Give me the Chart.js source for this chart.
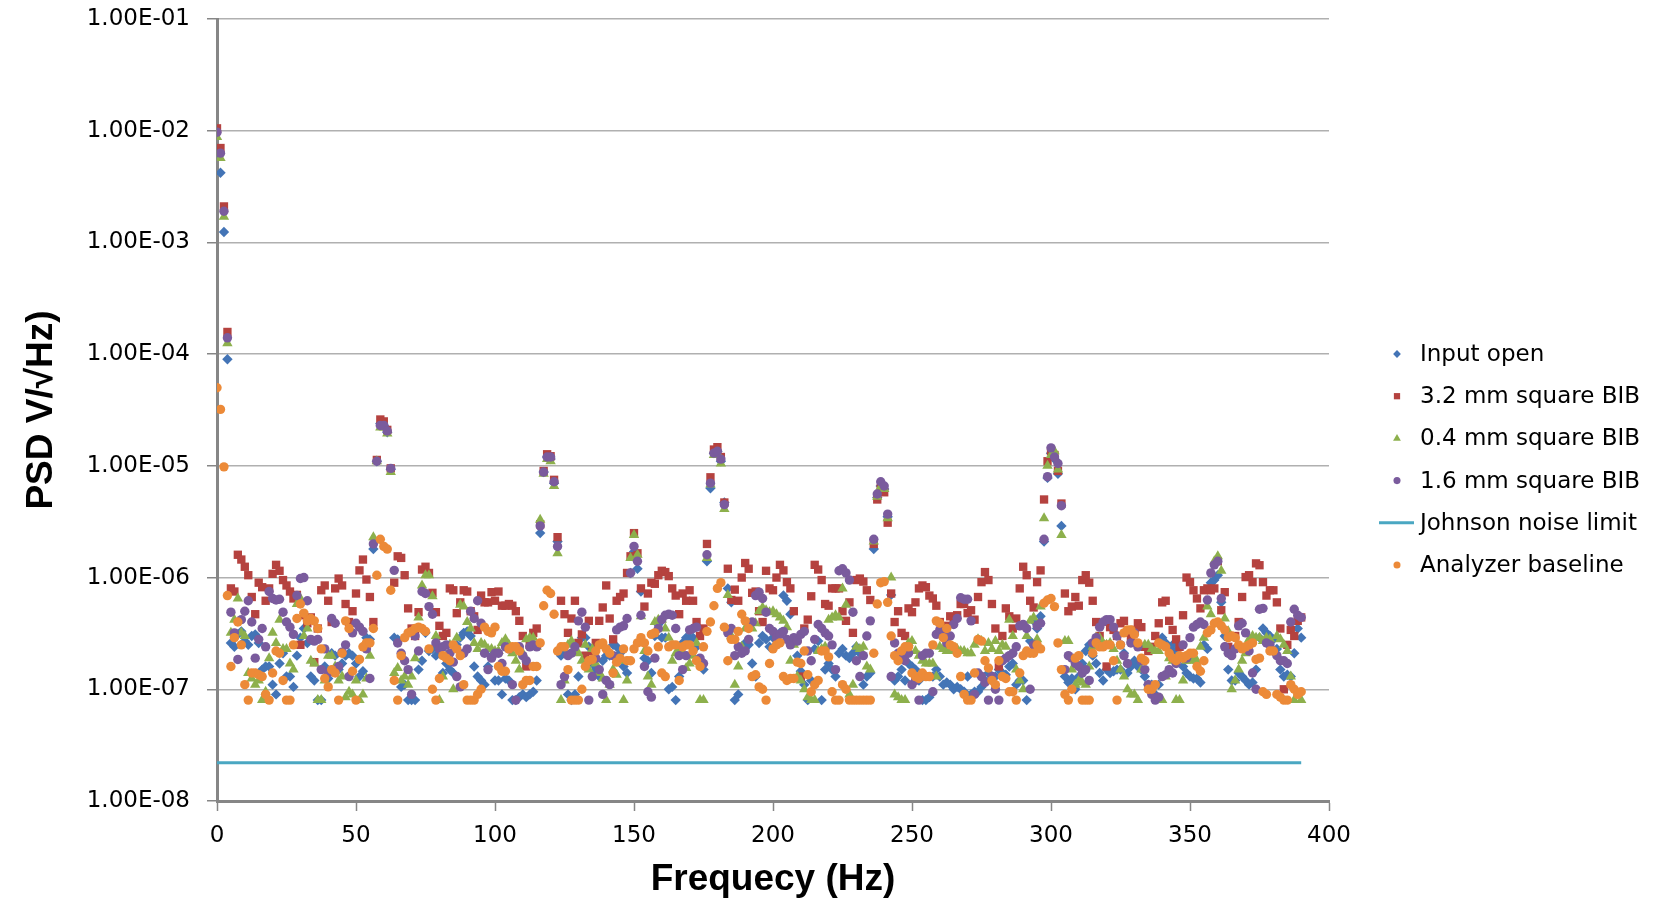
<!DOCTYPE html>
<html>
<head>
<meta charset="utf-8">
<title>PSD</title>
<script src="https://cdn.jsdelivr.net/npm/chart.js@4.4.1/dist/chart.umd.min.js"></script>
<style>
  html, body { margin: 0; padding: 0; background: #ffffff; }
  #wrap { width: 1663px; height: 907px; position: relative; }
</style>
</head>
<body>
<div id="wrap"><canvas id="psd-chart"></canvas></div>
<script>
// frequency bins (Hz)
const freqsHz = [
  0, 1.25, 2.5, 3.75, 5, 6.25, 7.5, 8.75,
  10, 11.25, 12.5, 13.75, 15, 16.25, 17.5, 18.75,
  20, 21.25, 22.5, 23.75, 25, 26.25, 27.5, 28.75,
  30, 31.25, 32.5, 33.75, 35, 36.25, 37.5, 38.75,
  40, 41.25, 42.5, 43.75, 45, 46.25, 47.5, 48.75,
  50, 51.25, 52.5, 53.75, 55, 56.25, 57.5, 58.75,
  60, 61.25, 62.5, 63.75, 65, 66.25, 67.5, 68.75,
  70, 71.25, 72.5, 73.75, 75, 76.25, 77.5, 78.75,
  80, 81.25, 82.5, 83.75, 85, 86.25, 87.5, 88.75,
  90, 91.25, 92.5, 93.75, 95, 96.25, 97.5, 98.75,
  100, 101.25, 102.5, 103.75, 105, 106.25, 107.5, 108.75,
  110, 111.25, 112.5, 113.75, 115, 116.25, 117.5, 118.75,
  120, 121.25, 122.5, 123.75, 125, 126.25, 127.5, 128.75,
  130, 131.25, 132.5, 133.75, 135, 136.25, 137.5, 138.75,
  140, 141.25, 142.5, 143.75, 145, 146.25, 147.5, 148.75,
  150, 151.25, 152.5, 153.75, 155, 156.25, 157.5, 158.75,
  160, 161.25, 162.5, 163.75, 165, 166.25, 167.5, 168.75,
  170, 171.25, 172.5, 173.75, 175, 176.25, 177.5, 178.75,
  180, 181.25, 182.5, 183.75, 185, 186.25, 187.5, 188.75,
  190, 191.25, 192.5, 193.75, 195, 196.25, 197.5, 198.75,
  200, 201.25, 202.5, 203.75, 205, 206.25, 207.5, 208.75,
  210, 211.25, 212.5, 213.75, 215, 216.25, 217.5, 218.75,
  220, 221.25, 222.5, 223.75, 225, 226.25, 227.5, 228.75,
  230, 231.25, 232.5, 233.75, 235, 236.25, 237.5, 238.75,
  240, 241.25, 242.5, 243.75, 245, 246.25, 247.5, 248.75,
  250, 251.25, 252.5, 253.75, 255, 256.25, 257.5, 258.75,
  260, 261.25, 262.5, 263.75, 265, 266.25, 267.5, 268.75,
  270, 271.25, 272.5, 273.75, 275, 276.25, 277.5, 278.75,
  280, 281.25, 282.5, 283.75, 285, 286.25, 287.5, 288.75,
  290, 291.25, 292.5, 293.75, 295, 296.25, 297.5, 298.75,
  300, 301.25, 302.5, 303.75, 305, 306.25, 307.5, 308.75,
  310, 311.25, 312.5, 313.75, 315, 316.25, 317.5, 318.75,
  320, 321.25, 322.5, 323.75, 325, 326.25, 327.5, 328.75,
  330, 331.25, 332.5, 333.75, 335, 336.25, 337.5, 338.75,
  340, 341.25, 342.5, 343.75, 345, 346.25, 347.5, 348.75,
  350, 351.25, 352.5, 353.75, 355, 356.25, 357.5, 358.75,
  360, 361.25, 362.5, 363.75, 365, 366.25, 367.5, 368.75,
  370, 371.25, 372.5, 373.75, 375, 376.25, 377.5, 378.75,
  380, 381.25, 382.5, 383.75, 385, 386.25, 387.5, 388.75,
  390
];

// PSD, V/rtHz
const inputOpen = [
  6.3e-3, 4.2e-3, 1.24e-3, 9e-5, 2.6e-7, 2.4e-7, 3.1e-7, 3.3e-7,
  2.7e-7, 2.5e-7, 3e-7, 3.1e-7, 2.6e-7, 1.5e-7, 1.6e-7, 1.6e-7,
  1.1e-7, 9e-8, 1.7e-7, 2.1e-7, 1.3e-7, 1.3e-7, 1.05e-7, 2e-7,
  2.9e-7, 3.5e-7, 2.6e-7, 1.3e-7, 1.2e-7, 8e-8, 8e-8, 1.6e-7,
  1.25e-7, 2.1e-7, 2e-7, 1.5e-7, 1.7e-7, 2e-7, 2.1e-7, 2e-7,
  1.7e-7, 1.3e-7, 1.45e-7, 2.9e-7, 2.8e-7, 1.8e-6, 1.1e-5, 2.4e-5,
  2.3e-5, 2e-5, 9.3e-6, 2.9e-7, 2.8e-7, 1.05e-7, 1.1e-7, 8e-8,
  8e-8, 8e-8, 1.5e-7, 1.8e-7, 3.2e-7, 2.2e-7, 2.3e-7, 2e-7,
  2.1e-7, 1.4e-7, 1.7e-7, 1.5e-7, 1.4e-7, 2.5e-7, 2.9e-7, 3.2e-7,
  3.3e-7, 3e-7, 1.6e-7, 1.3e-7, 1.2e-7, 1.1e-7, 1.6e-7, 2e-7,
  1.2e-7, 1.2e-7, 9e-8, 1.25e-7, 1.2e-7, 8e-8, 8e-8, 8.5e-8,
  9e-8, 8.5e-8, 9e-8, 9.5e-8, 1.2e-7, 2.5e-6, 8.8e-6, 1.2e-5,
  1.15e-5, 7e-6, 2.1e-6, 2e-7, 2.2e-7, 9e-8, 8e-8, 9e-8,
  1.3e-7, 2.9e-7, 2.9e-7, 2.4e-7, 1.7e-7, 1.5e-7, 1.3e-7, 1.8e-7,
  2e-7, 2e-7, 2.5e-7, 2.4e-7, 2.1e-7, 1.6e-7, 1.4e-7, 1.1e-6,
  1.7e-6, 1.2e-6, 7.5e-7, 1.9e-7, 1.8e-7, 1.4e-7, 3e-7, 3.8e-7,
  2.9e-7, 2.9e-7, 1e-7, 1.05e-7, 8e-8, 1.3e-7, 2.6e-7, 2.9e-7,
  2.9e-7, 2.9e-7, 2.4e-7, 1.8e-7, 1.5e-7, 1.4e-6, 6.3e-6, 1.3e-5,
  1.35e-5, 1.1e-5, 4.7e-6, 8e-7, 6e-7, 8e-8, 9e-8, 2.3e-7,
  2.6e-7, 2.5e-7, 1.7e-7, 1.3e-7, 2.6e-7, 3e-7, 2.8e-7, 2.4e-7,
  2.9e-7, 3.1e-7, 3.2e-7, 6.9e-7, 6.2e-7, 4.7e-7, 2.6e-7, 2e-7,
  1.45e-7, 1.1e-7, 8e-8, 1.2e-7, 2.3e-7, 2.7e-7, 8e-8, 1.5e-7,
  1.7e-7, 1.5e-7, 1.3e-7, 2.1e-7, 2.3e-7, 2e-7, 1.9e-7, 2.1e-7,
  2.4e-7, 2.1e-7, 1.1e-7, 1.3e-7, 1.4e-7, 1.8e-6, 5.2e-6, 6.6e-6,
  6.2e-6, 3.5e-6, 7e-7, 1.2e-7, 1.3e-7, 1.5e-7, 1.2e-7, 1.7e-7,
  1.6e-7, 1.5e-7, 1.2e-7, 8e-8, 8e-8, 8.5e-8, 1.3e-7, 1.5e-7,
  1.3e-7, 1.1e-7, 1.15e-7, 1.1e-7, 1e-7, 1.05e-7, 1e-7, 9.5e-8,
  1.3e-7, 9e-8, 9.5e-8, 9.5e-8, 1.05e-7, 1.2e-7, 1.4e-7, 1.3e-7,
  1.3e-7, 1.5e-7, 1.4e-7, 1.35e-7, 1.6e-7, 1.7e-7, 1.1e-7, 1.2e-7,
  1.2e-7, 8e-8, 2.7e-7, 4.1e-7, 3.5e-7, 4.5e-7, 2.1e-6, 7.8e-6,
  1.3e-5, 1.15e-5, 8.5e-6, 2.9e-6, 1.3e-7, 1.15e-7, 1.25e-7, 1e-7,
  1.3e-7, 1.7e-7, 2.2e-7, 2.5e-7, 2e-7, 1.7e-7, 1.4e-7, 1.2e-7,
  1.5e-7, 1.4e-7, 1.45e-7, 1.5e-7, 1.5e-7, 2.1e-7, 1.4e-7, 1.6e-7,
  1.8e-7, 1.6e-7, 1.5e-7, 1.3e-7, 1.1e-7, 1.1e-7, 9e-8, 1.1e-7,
  2.9e-7, 2.6e-7, 2.3e-7, 2.5e-7, 2.2e-7, 1.9e-7, 1.6e-7, 1.4e-7,
  1.3e-7, 1.25e-7, 1.25e-7, 1.15e-7, 2.5e-7, 2.3e-7, 9e-7, 9.5e-7,
  1.05e-6, 6e-7, 3e-7, 1.5e-7, 1.2e-7, 1.2e-7, 1.4e-7, 1.3e-7,
  1.2e-7, 1.1e-7, 1.15e-7, 1.5e-7, 2.9e-7, 3.5e-7, 3.2e-7, 3e-7,
  2.8e-7, 2.3e-7, 1.5e-7, 1.3e-7, 1.35e-7, 1.3e-7, 2.1e-7, 3.5e-7,
  2.9e-7
];

const bib32 = [
  1.05e-2, 7e-3, 2.1e-3, 1.58e-4, 8e-7, 7.5e-7, 1.6e-6, 1.45e-6,
  1.25e-6, 1.05e-6, 6.7e-7, 4.7e-7, 9e-7, 8.2e-7, 6.2e-7, 8e-7,
  1.08e-6, 1.3e-6, 1.15e-6, 9.5e-7, 8.5e-7, 7.5e-7, 6.5e-7, 7e-7,
  2.5e-7, 4.6e-7, 3.9e-7, 4.4e-7, 1.75e-7, 3.5e-7, 7.7e-7, 8.5e-7,
  6.2e-7, 4e-7, 8e-7, 9.8e-7, 8.5e-7, 5.8e-7, 4e-7, 5e-7,
  7.2e-7, 1.16e-6, 1.45e-6, 9.6e-7, 6.7e-7, 4e-7, 1.13e-5, 2.6e-5,
  2.5e-5, 2.1e-5, 9.5e-6, 9e-7, 1.55e-6, 1.5e-6, 1.05e-6, 5.3e-7,
  3.5e-7, 3e-7, 4.9e-7, 1.18e-6, 1.25e-6, 1.1e-6, 7.3e-7, 4.9e-7,
  3.7e-7, 3e-7, 3.2e-7, 8e-7, 7.7e-7, 4.8e-7, 6e-7, 7.7e-7,
  7.5e-7, 5e-7, 4.5e-7, 3.4e-7, 6.9e-7, 6e-7, 6e-7, 7.4e-7,
  6.2e-7, 7.5e-7, 5.6e-7, 5.6e-7, 5.8e-7, 5.6e-7, 5e-7, 4.1e-7,
  3e-7, 1.6e-7, 2.5e-7, 3.2e-7, 3.5e-7, 3e-6, 9e-6, 1.27e-5,
  1.22e-5, 7.5e-6, 2.3e-6, 6.2e-7, 4.7e-7, 3.2e-7, 4.3e-7, 6.2e-7,
  2.6e-7, 3.1e-7, 2e-7, 4.1e-7, 2.2e-7, 2.6e-7, 4.1e-7, 5.4e-7,
  8.5e-7, 4.3e-7, 2.8e-7, 6.2e-7, 6.7e-7, 7.2e-7, 1.1e-6, 1.55e-6,
  2.5e-6, 1.65e-6, 8e-7, 5.5e-7, 7.2e-7, 9e-7, 8.8e-7, 1.05e-6,
  1.15e-6, 1.12e-6, 1.03e-6, 8e-7, 6.9e-7, 4.7e-7, 7.2e-7, 6.2e-7,
  7.7e-7, 6.2e-7, 4e-7, 3e-7, 3.5e-7, 2e-6, 7.9e-6, 1.4e-5,
  1.47e-5, 1.2e-5, 4.7e-6, 1.2e-6, 6.3e-7, 7.8e-7, 6.2e-7, 1e-6,
  1.35e-6, 1.2e-6, 7.3e-7, 7.5e-7, 5e-7, 4e-7, 1.15e-6, 8e-7,
  7.7e-7, 1e-6, 1.3e-6, 1.16e-6, 9.1e-7, 8e-7, 5e-7, 2.8e-7,
  1.3e-7, 3.5e-7, 4.2e-7, 6.8e-7, 1.3e-6, 1.18e-6, 9.5e-7, 5.8e-7,
  5.6e-7, 8e-7, 8e-7, 8e-7, 5e-7, 4.1e-7, 6e-7, 3.2e-7,
  9.5e-7, 9.8e-7, 9.2e-7, 7.7e-7, 6.3e-7, 2e-6, 5e-6, 6.3e-6,
  5.8e-6, 3.1e-6, 7.2e-7, 4e-7, 5e-7, 3.2e-7, 3e-7, 5.3e-7,
  4.9e-7, 6e-7, 8e-7, 8.5e-7, 8.2e-7, 6.9e-7, 6.5e-7, 5.6e-7,
  4e-7, 3.5e-7, 3.7e-7, 4.5e-7, 4.1e-7, 4.6e-7, 5.8e-7, 5.8e-7,
  4.8e-7, 5.1e-7, 4.2e-7, 6.7e-7, 9.1e-7, 1.12e-6, 9.5e-7, 5.8e-7,
  3.5e-7, 1.6e-7, 3e-7, 5.3e-7, 4.5e-7, 3.5e-7, 4.3e-7, 8e-7,
  1.25e-6, 1.05e-6, 6.2e-7, 5.4e-7, 9.1e-7, 1.16e-6, 5e-6, 1.1e-5,
  1.35e-5, 1.25e-5, 9e-6, 4.6e-6, 7.2e-7, 5e-7, 5.5e-7, 6.7e-7,
  5.6e-7, 9.5e-7, 1.05e-6, 9e-7, 6.2e-7, 4e-7, 3e-7, 2.5e-7,
  1.6e-7, 3.6e-7, 3.4e-7, 3e-7, 3.9e-7, 4.1e-7, 3.2e-7, 2.8e-7,
  3.4e-7, 3.9e-7, 3.6e-7, 2.4e-7, 2.2e-7, 2.4e-7, 3e-7, 3.9e-7,
  6e-7, 6.2e-7, 4.1e-7, 3.4e-7, 2.8e-7, 2.4e-7, 4.6e-7, 1e-6,
  9.1e-7, 7.7e-7, 6.5e-7, 5.3e-7, 7.7e-7, 8e-7, 7.7e-7, 8e-7,
  1.4e-6, 5.1e-7, 7.4e-7, 2.4e-7, 2.2e-7, 3e-7, 4e-7, 6.7e-7,
  1.01e-6, 1.05e-6, 9.1e-7, 1.34e-6, 1.29e-6, 9.1e-7, 6.9e-7, 7.7e-7,
  7.7e-7, 6e-7, 3.5e-7, 1e-7, 2.5e-7, 3.4e-7, 3e-7, 4.1e-7,
  4.4e-7
];

const bib04 = [
  8.8e-3, 5.7e-3, 1.7e-3, 1.25e-4, 3.2e-7, 4.2e-7, 6.5e-7, 3.2e-7,
  3e-7, 1.4e-7, 1.25e-7, 1.1e-7, 1.2e-7, 8e-8, 9.5e-8, 1.9e-7,
  3.2e-7, 2.6e-7, 4.2e-7, 2.3e-7, 2.3e-7, 1.7e-7, 1.5e-7, 5.8e-7,
  6.5e-7, 3e-7, 3.5e-7, 1.8e-7, 1.7e-7, 8e-8, 8e-8, 1.2e-7,
  2e-7, 2e-7, 1.6e-7, 1.2e-7, 1.3e-7, 8.5e-8, 9.5e-8, 9e-8,
  1.2e-7, 8e-8, 9e-8, 1.25e-7, 2e-7, 2.3e-6, 1.1e-5, 2.2e-5,
  2.2e-5, 1.95e-5, 8.8e-6, 1.4e-7, 1.55e-7, 1.2e-7, 1.3e-7, 1.1e-7,
  1.3e-7, 1.9e-7, 4.4e-7, 8.5e-7, 1.05e-6, 1.05e-6, 6.8e-7, 3e-7,
  8e-8, 1.3e-7, 2e-7, 2.5e-7, 1e-7, 2.9e-7, 5.7e-7, 5.5e-7,
  4e-7, 3.5e-7, 2.6e-7, 2.3e-7, 2.6e-7, 2.5e-7, 2.3e-7, 2.3e-7,
  2.2e-7, 2.2e-7, 2.6e-7, 2.8e-7, 2.5e-7, 2.1e-7, 1.8e-7, 1.5e-7,
  2.1e-7, 2.8e-7, 2.9e-7, 2.9e-7, 2.4e-7, 3.3e-6, 8.5e-6, 1.15e-5,
  1.1e-5, 6.6e-6, 1.65e-6, 8e-8, 1.2e-7, 2.5e-7, 2.7e-7, 2.2e-7,
  2.1e-7, 1.8e-7, 2.5e-7, 1.5e-7, 2.3e-7, 1.7e-7, 1.4e-7, 1.25e-7,
  8e-8, 1.1e-7, 1.5e-7, 1.35e-7, 1.8e-7, 8e-8, 1.2e-7, 1.5e-6,
  2.4e-6, 1.6e-6, 4.5e-7, 2.2e-7, 1.3e-7, 1.1e-7, 4e-7, 4.2e-7,
  4.2e-7, 3.5e-7, 2.9e-7, 1.8e-7, 2.1e-7, 2.3e-7, 2.1e-7, 1.55e-7,
  1.7e-7, 2e-7, 2.6e-7, 8e-8, 8e-8, 1.5e-6, 6.8e-6, 1.25e-5,
  1.3e-5, 1.05e-5, 4.1e-6, 7e-7, 3e-7, 1.1e-7, 1.6e-7, 2.4e-7,
  3.5e-7, 3.9e-7, 3.5e-7, 3.9e-7, 5e-7, 5.4e-7, 5.1e-7, 4.9e-7,
  5e-7, 4.7e-7, 4.4e-7, 4.1e-7, 3.6e-7, 1.8e-7, 2.5e-7, 1.3e-7,
  1.2e-7, 1e-7, 8.5e-8, 8e-8, 8e-8, 2.2e-7, 2.3e-7, 2.4e-7,
  4.2e-7, 4.4e-7, 4.6e-7, 4.4e-7, 8e-7, 5.7e-7, 9e-8, 1.1e-7,
  2.4e-7, 2.3e-7, 2.4e-7, 1.6e-7, 1.5e-7, 2.1e-6, 5.3e-6, 6.5e-6,
  6.2e-6, 3.4e-6, 1e-6, 9e-8, 8.5e-8, 8e-8, 8e-8, 2.6e-7,
  2.7e-7, 2.2e-7, 2e-7, 1.8e-7, 1.7e-7, 1.7e-7, 1.7e-7, 1.3e-7,
  2.4e-7, 2.3e-7, 2.2e-7, 2.2e-7, 2.3e-7, 2.3e-7, 2.2e-7, 2.2e-7,
  2.1e-7, 2.1e-7, 2.5e-7, 2.8e-7, 2.7e-7, 2.2e-7, 2.6e-7, 2.3e-7,
  2.7e-7, 2.2e-7, 2.5e-7, 2.4e-7, 4.2e-7, 3e-7, 1.5e-7, 1.2e-7,
  1e-7, 3e-7, 4.1e-7, 4.4e-7, 2.8e-7, 5.5e-7, 3.4e-6, 1e-5,
  1.25e-5, 1.35e-5, 9.3e-6, 2.4e-6, 2.7e-7, 2.7e-7, 1.5e-7, 1.1e-7,
  1.2e-7, 1.15e-7, 1.1e-7, 1.6e-7, 2.4e-7, 2.9e-7, 2.9e-7, 2.6e-7,
  2.5e-7, 2.6e-7, 2.3e-7, 1.8e-7, 1.5e-7, 1.3e-7, 1e-7, 9e-8,
  9e-8, 8e-8, 1.5e-7, 2.5e-7, 2.5e-7, 2.3e-7, 2.2e-7, 2.2e-7,
  8e-8, 1.3e-7, 1.9e-7, 1.8e-7, 8e-8, 8e-8, 1.2e-7, 1.8e-7,
  1.8e-7, 1.9e-7, 1.8e-7, 2.4e-7, 2.9e-7, 5.5e-7, 4.7e-7, 1.4e-6,
  1.55e-6, 1.15e-6, 4.3e-7, 3.3e-7, 1e-7, 1.2e-7, 1.5e-7, 1.8e-7,
  2.1e-7, 2.8e-7, 3e-7, 2.9e-7, 2.9e-7, 2.7e-7, 2.9e-7, 2.8e-7,
  2.2e-7, 3e-7, 2.8e-7, 2.5e-7, 2.2e-7, 1.3e-7, 8e-8, 9e-8,
  8e-8
];

const bib16 = [
  9.7e-3, 6.3e-3, 1.9e-3, 1.4e-4, 4.9e-7, 3.2e-7, 1.85e-7, 4.2e-7,
  5e-7, 6.2e-7, 4e-7, 1.9e-7, 2.8e-7, 3.5e-7, 2.4e-7, 7.5e-7,
  6.5e-7, 6.3e-7, 6.4e-7, 4.9e-7, 4e-7, 3.6e-7, 3.1e-7, 6.9e-7,
  9.8e-7, 1e-6, 6.2e-7, 2.8e-7, 2.7e-7, 2.8e-7, 1.5e-7, 2.3e-7,
  1.4e-7, 4.3e-7, 3.9e-7, 1.6e-7, 2.15e-7, 2.5e-7, 1.3e-7, 3.2e-7,
  3.9e-7, 3.6e-7, 3.3e-7, 2.3e-7, 1.25e-7, 2e-6, 1.1e-5, 2.3e-5,
  2.3e-5, 2.05e-5, 9.5e-6, 1.16e-6, 2.6e-7, 2.1e-7, 1.8e-7, 1.5e-7,
  9e-8, 3e-7, 2.2e-7, 7.5e-7, 7.2e-7, 5.5e-7, 4.7e-7, 2.6e-7,
  2.3e-7, 2.4e-7, 2.5e-7, 2.1e-7, 1.75e-7, 1.3e-7, 1.05e-7, 2.1e-7,
  2.3e-7, 5e-7, 4.3e-7, 6.2e-7, 3.9e-7, 2.1e-7, 1.5e-7, 1.9e-7,
  2.1e-7, 2.1e-7, 1.7e-7, 2.4e-7, 2.3e-7, 1.1e-7, 8e-8, 2.4e-7,
  2e-7, 1.8e-7, 2.4e-7, 2.5e-7, 2.4e-7, 2.9e-6, 8.8e-6, 1.2e-5,
  1.2e-5, 7.2e-6, 1.9e-6, 1.1e-7, 1.3e-7, 2e-7, 2.1e-7, 2.4e-7,
  4.1e-7, 4.9e-7, 3.6e-7, 8e-8, 1.3e-7, 1.9e-7, 1.5e-7, 9e-8,
  1.2e-7, 1.1e-7, 2e-7, 3.4e-7, 3.6e-7, 3.7e-7, 4.3e-7, 1.1e-6,
  1.9e-6, 1.4e-6, 4.6e-7, 1.6e-7, 9.5e-8, 8.5e-8, 1.9e-7, 3.5e-7,
  4.2e-7, 4.6e-7, 4.7e-7, 4.6e-7, 3.5e-7, 2e-7, 1.5e-7, 2e-7,
  3.4e-7, 3.5e-7, 3.6e-7, 1.9e-7, 1.7e-7, 1.6e-6, 7e-6, 1.3e-5,
  1.35e-5, 1.15e-5, 4.5e-6, 3.2e-7, 3.5e-7, 2e-7, 2.4e-7, 2.1e-7,
  2.2e-7, 2.8e-7, 4e-7, 6.9e-7, 7.4e-7, 6.5e-7, 4.9e-7, 3.5e-7,
  3.3e-7, 2.9e-7, 3.1e-7, 3.3e-7, 2.8e-7, 2.5e-7, 2.9e-7, 2.7e-7,
  3.1e-7, 3.3e-7, 2.2e-7, 1.8e-7, 2.8e-7, 3.8e-7, 3.5e-7, 3.2e-7,
  3e-7, 2.5e-7, 1.5e-7, 1.15e-6, 1.2e-6, 1.1e-6, 9.5e-7, 4.9e-7,
  1.8e-7, 1.3e-7, 2e-7, 3e-7, 4.1e-7, 2.2e-6, 5.6e-6, 7.2e-6,
  6.6e-6, 3.7e-6, 1.3e-7, 2.6e-7, 2.1e-7, 2e-7, 1.8e-7, 2.1e-7,
  1.1e-7, 1.2e-7, 8e-8, 2e-7, 2.1e-7, 2.1e-7, 9.5e-8, 3.1e-7,
  3.4e-7, 3.3e-7, 2.6e-7, 3e-7, 3.8e-7, 4.3e-7, 6.6e-7, 6.4e-7,
  6.4e-7, 4.1e-7, 9e-8, 1.4e-7, 1.3e-7, 1.15e-7, 8e-8, 1.3e-7,
  1e-7, 8e-8, 1.8e-7, 1.9e-7, 2e-7, 2.1e-7, 2.4e-7, 3.7e-7,
  3.8e-7, 3.5e-7, 1e-7, 2.5e-7, 3.7e-7, 3.9e-7, 2.2e-6, 8e-6,
  1.45e-5, 1.2e-5, 1.05e-5, 4.4e-6, 1.5e-7, 2e-7, 1.9e-7, 1.7e-7,
  1.6e-7, 1.4e-7, 1.5e-7, 1.2e-7, 2.6e-7, 2.9e-7, 3.6e-7, 4e-7,
  4.2e-7, 4.2e-7, 3.6e-7, 3e-7, 2.5e-7, 2e-7, 1.7e-7, 2.6e-7,
  3.2e-7, 2.4e-7, 1.8e-7, 1.5e-7, 1.1e-7, 9e-8, 8e-8, 8.5e-8,
  1.3e-7, 1.35e-7, 1.5e-7, 1.4e-7, 1.7e-7, 1.9e-7, 2.5e-7, 1.9e-7,
  2.9e-7, 3.6e-7, 3.8e-7, 4e-7, 3.8e-7, 6.3e-7, 1.1e-6, 1.3e-6,
  1.4e-6, 6.5e-7, 2.4e-7, 2.1e-7, 2e-7, 2.3e-7, 3.7e-7, 3.9e-7,
  3.2e-7, 2.2e-7, 1.4e-7, 1e-7, 5.2e-7, 5.3e-7, 2.6e-7, 2.5e-7,
  2.2e-7, 2e-7, 1.8e-7, 1.8e-7, 1.7e-7, 4e-7, 5.2e-7, 4.6e-7,
  4.4e-7
];

const analyzerBaseline = [
  5e-5, 3.2e-5, 9.8e-6, 6.9e-7, 1.6e-7, 2.9e-7, 4e-7, 2.5e-7,
  1.1e-7, 8e-8, 1.4e-7, 1.4e-7, 1.35e-7, 1.3e-7, 9e-8, 8e-8,
  1.4e-7, 2.2e-7, 2.1e-7, 1.2e-7, 8e-8, 8e-8, 2.5e-7, 4.3e-7,
  5.8e-7, 4.8e-7, 4.1e-7, 4.3e-7, 4.1e-7, 3.5e-7, 2.3e-7, 1.25e-7,
  1.05e-7, 1.5e-7, 1.4e-7, 8e-8, 2.1e-7, 4.1e-7, 3.5e-7, 1.45e-7,
  8e-8, 1.85e-7, 2.4e-7, 2.6e-7, 2.6e-7, 3.5e-7, 1.05e-6, 2.2e-6,
  1.9e-6, 1.8e-6, 7.7e-7, 1.2e-7, 8e-8, 2e-7, 2.9e-7, 3.2e-7,
  3.3e-7, 3.5e-7, 3.6e-7, 3.5e-7, 3.3e-7, 2.3e-7, 1e-7, 8e-8,
  1.25e-7, 2e-7, 1.9e-7, 1.8e-7, 2.5e-7, 2.3e-7, 2e-7, 1.1e-7,
  8e-8, 8e-8, 8e-8, 9e-8, 1e-7, 3.6e-7, 3.3e-7, 3.2e-7,
  3.6e-7, 1.6e-7, 1.45e-7, 1.45e-7, 2.3e-7, 2.4e-7, 2.4e-7, 2.2e-7,
  1.1e-7, 1.2e-7, 1.2e-7, 1.6e-7, 1.6e-7, 2.6e-7, 5.6e-7, 7.7e-7,
  7.2e-7, 4.7e-7, 2.2e-7, 2.4e-7, 2.4e-7, 1.5e-7, 8e-8, 8e-8,
  8e-8, 1e-7, 1.6e-7, 1.8e-7, 1.85e-7, 2.2e-7, 2.5e-7, 2.6e-7,
  2.3e-7, 2.1e-7, 1.4e-7, 1.75e-7, 1.9e-7, 2.3e-7, 1.8e-7, 1.8e-7,
  2.3e-7, 2.6e-7, 2.9e-7, 2.6e-7, 2.2e-7, 3.1e-7, 3.2e-7, 2.4e-7,
  1.4e-7, 1.3e-7, 2.4e-7, 2.5e-7, 2.5e-7, 1.2e-7, 2.4e-7, 2.5e-7,
  2.5e-7, 2.2e-7, 1.8e-7, 1.6e-7, 2.4e-7, 3.3e-7, 4e-7, 5.6e-7,
  8e-7, 9e-7, 3.6e-7, 1.8e-7, 2.8e-7, 2.8e-7, 3.3e-7, 4.7e-7,
  4.1e-7, 3.5e-7, 1.3e-7, 1.35e-7, 1.05e-7, 1e-7, 8e-8, 1.7e-7,
  2.3e-7, 2.5e-7, 2.6e-7, 1.3e-7, 1.2e-7, 1.25e-7, 1.25e-7, 1.75e-7,
  1.7e-7, 2.2e-7, 1.35e-7, 9.5e-8, 1.1e-7, 1.2e-7, 2.2e-7, 2.2e-7,
  1.95e-7, 9.5e-8, 8e-8, 8e-8, 1.1e-7, 1e-7, 8e-8, 8e-8,
  8e-8, 8e-8, 8e-8, 8e-8, 8e-8, 2.1e-7, 5.8e-7, 9e-7,
  9.2e-7, 6e-7, 3e-7, 2e-7, 1.8e-7, 2.2e-7, 2.4e-7, 2.4e-7,
  1.4e-7, 1.3e-7, 1.25e-7, 1.4e-7, 1.3e-7, 1.3e-7, 2.5e-7, 4.1e-7,
  3.9e-7, 2.9e-7, 3.5e-7, 2.5e-7, 2.4e-7, 2.1e-7, 1.3e-7, 9e-8,
  8e-8, 8e-8, 1.4e-7, 2.8e-7, 2.7e-7, 1.8e-7, 1.55e-7, 1.2e-7,
  1.1e-7, 1.8e-7, 1.3e-7, 1.25e-7, 9.5e-8, 9.5e-8, 8e-8, 1.4e-7,
  2e-7, 2.2e-7, 2.1e-7, 2.1e-7, 2.5e-7, 2.3e-7, 5.9e-7, 6.3e-7,
  6.5e-7, 5.5e-7, 2.6e-7, 1.5e-7, 9e-8, 8e-8, 1e-7, 1.9e-7,
  2e-7, 8e-8, 8e-8, 8e-8, 2.1e-7, 2.6e-7, 2.4e-7, 2.4e-7,
  2.5e-7, 2.5e-7, 1.8e-7, 8e-8, 2.5e-7, 3.2e-7, 3.4e-7, 3.4e-7,
  3.1e-7, 2.6e-7, 1.9e-7, 1.8e-7, 1e-7, 1e-7, 1.1e-7, 2.6e-7,
  2.5e-7, 2.4e-7, 2.1e-7, 1.9e-7, 1.8e-7, 2e-7, 1.9e-7, 2e-7,
  2.1e-7, 2.1e-7, 1.6e-7, 1.45e-7, 1.8e-7, 3.2e-7, 3.4e-7, 3.9e-7,
  4e-7, 3.7e-7, 3.4e-7, 2.9e-7, 3e-7, 2.9e-7, 2.5e-7, 2.3e-7,
  2.4e-7, 2.5e-7, 2.6e-7, 1.85e-7, 1.9e-7, 9.5e-8, 9e-8, 2.2e-7,
  2.2e-7, 9e-8, 8.5e-8, 8e-8, 8e-8, 1.1e-7, 1e-7, 9e-8,
  9.5e-8
];

// Johnson noise limit, flat across the band
const johnsonFreq = [0, 390];
const johnsonLevel = [2.2e-8, 2.2e-8];

const yTickValues = [1e-8, 1e-7, 1e-6, 1e-5, 1e-4, 1e-3, 1e-2, 1e-1];
const xTickStep = 50;

const seriesNames = ['Input open', '3.2 mm square BIB', '0.4 mm square BIB', '1.6 mm square BIB', 'Johnson noise limit', 'Analyzer baseline'];

function toPoints(xs, ys) {
    return xs.map((f, i) => ({ x: f, y: ys[i] }));
}

// 1.00E-05 style labels
function sciLabel(v) {
    const e = Math.round(Math.log10(v));
    const m = v / Math.pow(10, e);
    const sign = e < 0 ? '-' : '+';
    return m.toFixed(2) + 'E' + sign + String(Math.abs(e)).padStart(2, '0');
}

const tickFont = { family: 'DejaVu Sans', size: 23 };
const titleFont = { family: 'Liberation Sans', size: 37, weight: 'bold' };
const axisGray = '#868686';

// legend drawn to the right of the plot, like the spreadsheet one
const sideLegend = {
    id: 'sideLegend',
    afterDraw(chart) {
        const ctx = chart.ctx;
        const drawPoint = Chart.helpers && Chart.helpers.drawPoint;
        const markerX = 1397, textX = 1420, topY = 354, step = 42.2;
        ctx.save();
        ctx.font = '23px "DejaVu Sans"';
        ctx.textBaseline = 'middle';
        ctx.textAlign = 'left';
        chart.data.datasets.forEach((ds, k) => {
            const y = topY + k * step;
            if (ds.showLine) {
                ctx.strokeStyle = ds.borderColor;
                ctx.lineWidth = 3;
                ctx.beginPath();
                ctx.moveTo(1379, y);
                ctx.lineTo(1414, y);
                ctx.stroke();
            } else if (drawPoint) {
                ctx.fillStyle = ds.pointBackgroundColor;
                ctx.strokeStyle = ds.pointBackgroundColor;
                drawPoint(ctx, { pointStyle: ds.pointStyle, radius: ds.pointRadius * 0.75, rotation: 0, borderWidth: 0 }, markerX, y);
            }
            ctx.fillStyle = '#000000';
            ctx.fillText(ds.label, textX, y + 1);
        });
        ctx.restore();
    }
};

document.addEventListener('DOMContentLoaded', () => {
    const ctx = document.getElementById('psd-chart').getContext('2d');

    new Chart(ctx, {
        type: 'scatter',
        data: {
            datasets: [
                {
                    label: seriesNames[0],
                    data: toPoints(freqsHz, inputOpen),
                    pointStyle: 'rectRot',
                    pointRadius: 5.2,
                    pointBackgroundColor: '#4374b6',
                    pointBorderWidth: 0,
                    order: 5
                },
                {
                    label: seriesNames[1],
                    data: toPoints(freqsHz, bib32),
                    pointStyle: 'rect',
                    pointRadius: 5.9,
                    pointBackgroundColor: '#b5423f',
                    pointBorderWidth: 0,
                    order: 4
                },
                {
                    label: seriesNames[2],
                    data: toPoints(freqsHz, bib04),
                    pointStyle: 'triangle',
                    pointRadius: 6,
                    pointBackgroundColor: '#8db04c',
                    pointBorderWidth: 0,
                    order: 3
                },
                {
                    label: seriesNames[3],
                    data: toPoints(freqsHz, bib16),
                    pointStyle: 'circle',
                    pointRadius: 4.7,
                    pointBackgroundColor: '#7a5b9d',
                    pointBorderWidth: 0,
                    order: 2
                },
                {
                    label: seriesNames[4],
                    data: toPoints(johnsonFreq, johnsonLevel),
                    showLine: true,
                    borderColor: '#4aa7c2',
                    borderWidth: 3,
                    pointRadius: 0,
                    order: 1
                },
                {
                    label: seriesNames[5],
                    data: toPoints(freqsHz, analyzerBaseline),
                    pointStyle: 'circle',
                    pointRadius: 4.7,
                    pointBackgroundColor: '#ec8a38',
                    pointBorderWidth: 0,
                    order: 0
                }
            ]
        },
        options: {
            responsive: true,
            maintainAspectRatio: false,
            devicePixelRatio: 1,
            animation: false,
            layout: {
                padding: { top: 19, right: 334, bottom: 0, left: 0 }
            },
            plugins: {
                legend: { display: false },
                tooltip: { enabled: false }
            },
            scales: {
                x: {
                    type: 'linear',
                    min: 0,
                    max: 400,
                    ticks: {
                        stepSize: xTickStep,
                        font: tickFont,
                        color: '#000000',
                        padding: 11,
                        maxRotation: 0
                    },
                    grid: {
                        drawOnChartArea: false,
                        drawTicks: true,
                        tickLength: 10,
                        tickColor: axisGray,
                        tickWidth: 1.5
                    },
                    border: { color: axisGray, width: 3 },
                    title: {
                        display: true,
                        text: 'Frequecy (Hz)',
                        font: titleFont,
                        color: '#000000',
                        padding: { top: 0, bottom: 5 }
                    },
                    afterFit: (scale) => { scale.height = 106; }
                },
                y: {
                    type: 'logarithmic',
                    min: 1e-8,
                    max: 1e-1,
                    afterBuildTicks: (scale) => {
                        scale.ticks = yTickValues.map(v => ({ value: v }));
                    },
                    ticks: {
                        callback: (v) => sciLabel(v),
                        font: tickFont,
                        color: '#000000',
                        padding: 17
                    },
                    grid: {
                        color: '#b0b0b0',
                        lineWidth: 1.5,
                        drawTicks: true,
                        tickLength: 10,
                        tickColor: axisGray,
                        tickWidth: 1.5
                    },
                    border: { color: axisGray, width: 3 },
                    title: {
                        display: true,
                        text: 'PSD V/\u221AHz)',
                        font: titleFont,
                        color: '#000000',
                        padding: { top: 20, bottom: 0 }
                    },
                    afterFit: (scale) => {
                        scale.width = 217;
                        // let the layout padding alone decide the top edge
                        scale.paddingTop = 0;
                        scale.paddingBottom = 0;
                    }
                }
            }
        },
        plugins: [sideLegend]
    });
});
</script>
</body>
</html>
